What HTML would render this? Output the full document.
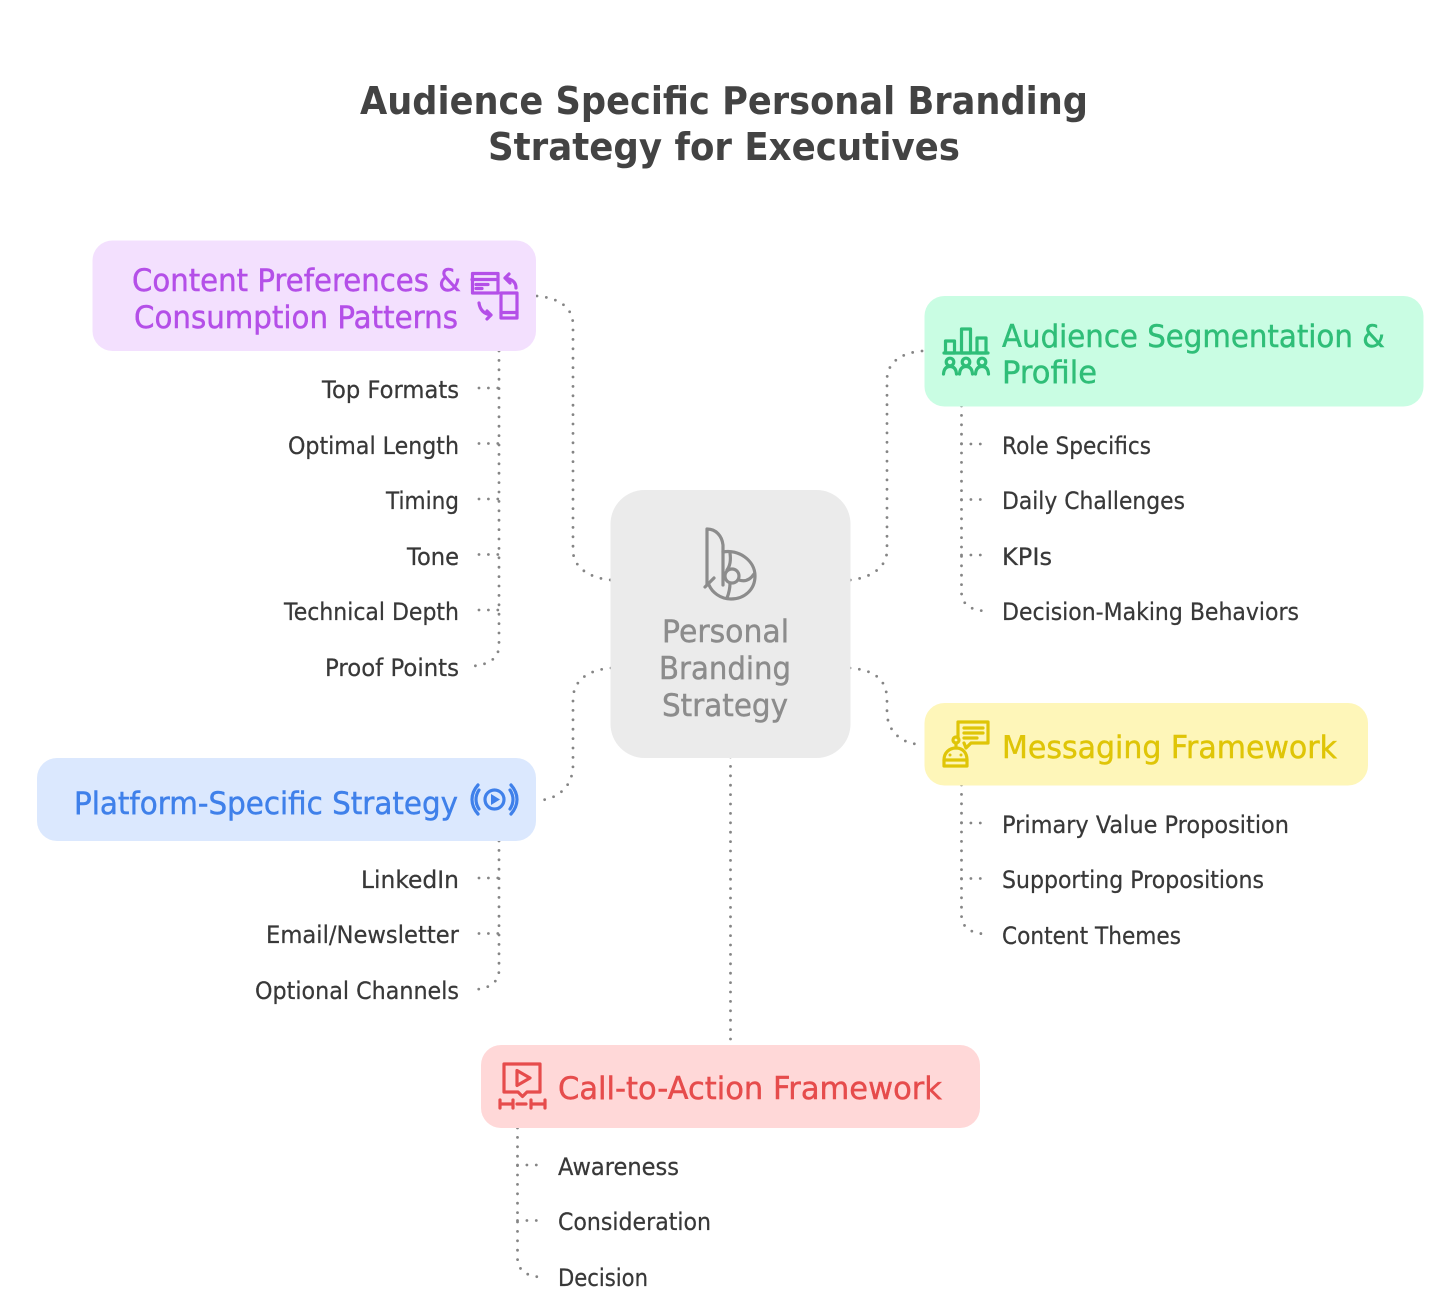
<!DOCTYPE html>
<html><head><meta charset="utf-8"><style>
html,body{margin:0;padding:0;background:#fff;width:1456px;height:1313px;overflow:hidden}
svg{display:block}
text{font-family:"DejaVu Sans","Liberation Sans",sans-serif}
.i{font-size:24px;fill:#383838;stroke:#383838;stroke-width:.25}
.h{font-size:31px;stroke-width:.45}
.t{font-size:38px;font-weight:bold;fill:#434343}
.d{fill:none;stroke:#858585;stroke-width:2.8;stroke-linecap:round;stroke-dasharray:0 9.4}
.ic{fill:none;stroke-width:3.2;stroke-linecap:round;stroke-linejoin:round}
</style></head><body>
<svg width="1456" height="1313" viewBox="0 0 1456 1313" xmlns="http://www.w3.org/2000/svg">
<rect width="1456" height="1313" fill="#fff"/>
<text class="t" x="360" y="114" textLength="728" lengthAdjust="spacingAndGlyphs">Audience Specific Personal Branding</text>
<text class="t" x="488" y="160" textLength="472" lengthAdjust="spacingAndGlyphs">Strategy for Executives</text>

<g class="d">
<path d="M537 296C560 298 573 308 573 325V550C573 568 590 578 611 580"/>
<path d="M922 351C900 353 887 363 887 380V550C887 568 870 578 850 580"/>
<path d="M850 668C875 670 887 680 887 700V712C887 730 900 742 916 744"/>
<path d="M611 668C588 670 573 680 573 700V765C573 785 560 797 543 800"/>
<path d="M730.500 757V1045"/>
<path d="M499 351V645C499 658 490 664 474 666"/>
<path d="M479 388H499M479 443.500H499M479 499H499M479 554.500H499M479 610H499"/>
<path d="M499 841V970C499 982 490 988 476 989.500"/>
<path d="M479 878H499M479 933.500H499"/>
<path d="M961.500 406V592C961.500 604 970 610 985 611"/>
<path d="M961.500 444H985M961.500 499.500H985M961.500 555H985"/>
<path d="M961.500 785V915C961.500 927 970 933 985 934"/>
<path d="M961.500 823H985M961.500 878.500H985"/>
<path d="M517.500 1128V1258C517.500 1270 526 1276 540 1277"/>
<path d="M517.500 1165H540M517.500 1220.500H540"/>
</g>

<rect x="92.500" y="240.500" width="443.500" height="110.500" rx="20" fill="#f3e0fe"/>
<rect x="924.500" y="296" width="499" height="110.500" rx="20" fill="#c9fde3"/>
<rect x="924.500" y="703" width="443.500" height="82.500" rx="20" fill="#fef6b9"/>
<rect x="37" y="758" width="499" height="83" rx="20" fill="#dbe8fe"/>
<rect x="481" y="1045" width="499" height="83" rx="20" fill="#ffd8d8"/>
<rect x="610.500" y="490" width="240" height="268" rx="34" fill="#ebebeb"/>

<g fill="#b44fe8" stroke="#b44fe8">
<text class="h" x="132" y="291" textLength="329" lengthAdjust="spacingAndGlyphs">Content Preferences &amp;</text>
<text class="h" x="134" y="328" textLength="324" lengthAdjust="spacingAndGlyphs">Consumption Patterns</text>
</g>
<g fill="#2fbe78" stroke="#2fbe78">
<text class="h" x="1002" y="347" textLength="383" lengthAdjust="spacingAndGlyphs">Audience Segmentation &amp;</text>
<text class="h" x="1002" y="383" textLength="95" lengthAdjust="spacingAndGlyphs">Profile</text>
</g>
<text class="h" x="1002" y="758" textLength="335" lengthAdjust="spacingAndGlyphs" fill="#dfc507" stroke="#dfc507">Messaging Framework</text>
<text class="h" x="74" y="814" textLength="384" lengthAdjust="spacingAndGlyphs" fill="#3f80ea" stroke="#3f80ea">Platform-Specific Strategy</text>
<text class="h" x="558" y="1099" textLength="384" lengthAdjust="spacingAndGlyphs" fill="#e64c4c" stroke="#e64c4c">Call-to-Action Framework</text>
<g fill="#8c8c8c" stroke="#8c8c8c">
<text class="h" x="662" y="642" textLength="127" lengthAdjust="spacingAndGlyphs">Personal</text>
<text class="h" x="659" y="679" textLength="132" lengthAdjust="spacingAndGlyphs">Branding</text>
<text class="h" x="662" y="716" textLength="126" lengthAdjust="spacingAndGlyphs">Strategy</text>
</g>

<g class="i">
<text x="322" y="398" textLength="137" lengthAdjust="spacingAndGlyphs">Top Formats</text>
<text x="288" y="454" textLength="171" lengthAdjust="spacingAndGlyphs">Optimal Length</text>
<text x="386" y="509" textLength="73" lengthAdjust="spacingAndGlyphs">Timing</text>
<text x="407" y="565" textLength="52" lengthAdjust="spacingAndGlyphs">Tone</text>
<text x="284" y="620" textLength="175" lengthAdjust="spacingAndGlyphs">Technical Depth</text>
<text x="325" y="676" textLength="134" lengthAdjust="spacingAndGlyphs">Proof Points</text>
<text x="361" y="888" textLength="98" lengthAdjust="spacingAndGlyphs">LinkedIn</text>
<text x="266" y="943" textLength="193" lengthAdjust="spacingAndGlyphs">Email/Newsletter</text>
<text x="255" y="999" textLength="204" lengthAdjust="spacingAndGlyphs">Optional Channels</text>
<text x="1002" y="454" textLength="149" lengthAdjust="spacingAndGlyphs">Role Specifics</text>
<text x="1002" y="509" textLength="183" lengthAdjust="spacingAndGlyphs">Daily Challenges</text>
<text x="1002" y="565" textLength="50" lengthAdjust="spacingAndGlyphs">KPIs</text>
<text x="1002" y="620" textLength="297" lengthAdjust="spacingAndGlyphs">Decision-Making Behaviors</text>
<text x="1002" y="833" textLength="287" lengthAdjust="spacingAndGlyphs">Primary Value Proposition</text>
<text x="1002" y="888" textLength="262" lengthAdjust="spacingAndGlyphs">Supporting Propositions</text>
<text x="1002" y="944" textLength="179" lengthAdjust="spacingAndGlyphs">Content Themes</text>
<text x="558" y="1175" textLength="121" lengthAdjust="spacingAndGlyphs">Awareness</text>
<text x="558" y="1230" textLength="153" lengthAdjust="spacingAndGlyphs">Consideration</text>
<text x="558" y="1286" textLength="90" lengthAdjust="spacingAndGlyphs">Decision</text>
</g>

<!-- purple icon -->
<g class="ic" stroke="#b44fe8">
<rect x="472.500" y="273.500" width="25.500" height="19.500"/>
<path d="M472 279.500H498M476 284.500H488M476 288.500H482"/>
<rect x="501" y="293" width="16" height="25"/>
<path d="M501 312.500H517"/>
<path d="M516 288C516 282 512 279 505 278M509 274L505 278L510 283"/>
<path d="M479 303C480 310 484 314 491 315M487 311L491 315L487 319"/>
</g>
<!-- green icon -->
<g class="ic" stroke="#2fbe78">
<path d="M944 353H988"/>
<rect x="945.500" y="341" width="9" height="12"/>
<rect x="961.500" y="329" width="9" height="24"/>
<rect x="977" y="338" width="9" height="15"/>
<circle cx="950" cy="362" r="3.800"/><circle cx="966" cy="362" r="3.800"/><circle cx="982" cy="362" r="3.800"/>
<path d="M943.500 374C944 368 947 366.500 950 366.500C953 366.500 956 368 956.500 374M959.500 374C960 368 963 366.500 966 366.500C969 366.500 972 368 972.500 374M975.500 374C976 368 979 366.500 982 366.500C985 366.500 988 368 988.500 374"/>
</g>
<!-- yellow icon -->
<g class="ic" stroke="#dfc507">
<path d="M958 738V722H988V743H971L966 748L964 743"/>
<path d="M964 728H983M964 733H983M964 738H977"/>
<circle cx="956" cy="740" r="3"/>
<path d="M956 743V748"/>
<path d="M944 766V760C944 753 949 748 956 748C963 748 967 753 967 760V766Z"/>
<path d="M944 760H967"/>
</g>
<circle cx="950" cy="755" r="1.500" fill="#dfc507"/><circle cx="961" cy="755" r="1.500" fill="#dfc507"/>
<!-- blue icon -->
<g class="ic" stroke="#3f80ea">
<circle cx="494.500" cy="799.500" r="9.500"/>
<path d="M479 790C475 796 475 803 479 809M510 790C514 796 514 803 510 809"/>
<path d="M478 785C470 794 470 805 478 814M511 785C519 794 519 805 511 814"/>
</g>
<path d="M491 794L500 799.500L491 805Z" fill="#3f80ea"/>
<!-- red icon -->
<g class="ic" stroke="#e64c4c">
<path d="M504 1064H540V1092H527L522.500 1096.500L518 1092H504Z"/>
<path d="M517 1070.500L530 1078L517 1085.500Z"/>
<path d="M500 1100V1108M545 1100V1108M531 1100V1108M513 1100V1108M500 1104H513M517 1104H526M531 1104H545"/>
</g>
<!-- center icon -->
<g class="ic" stroke="#8c8c8c">
<path d="M707 529V585M707 529C716 529 722 536 723 545V585"/>
<path d="M723 552C738 549 755 560 755 576C755 590 744 599 731 599C720 599 712 592 709 585"/>
<circle cx="732" cy="576" r="7"/>
<path d="M705 587L714 578M727 570C730 566 731 560 730 553M739 580C745 582 750 580 754 574M730 583C730 588 729 593 727 598"/>
</g>
</svg>
</body></html>
